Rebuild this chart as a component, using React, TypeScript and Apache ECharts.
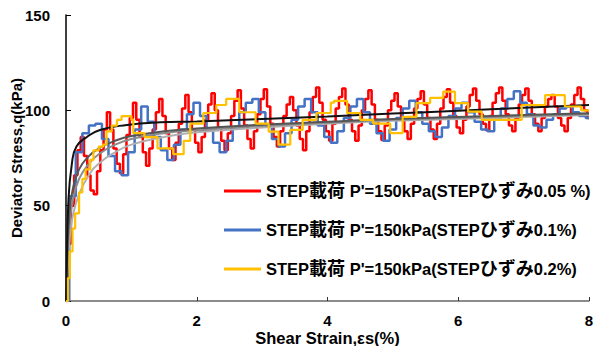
import React, { useEffect, useRef } from "react";
import * as echarts from "echarts";

// Stress sampled at every 0.05 % of shear strain (STEP 0.05 %)
const RED_STEP = 0.05;
const redStress = [
  0, 30, 50, 66, 79, 86, 76, 66, 58, 56,
  68, 79, 90, 99, 90, 80, 72, 67, 77, 87,
  96, 104, 95, 86, 78, 71, 80, 90, 99, 106,
  97, 88, 80, 74, 83, 93, 101, 108, 99, 90,
  83, 78, 86, 95, 103, 109, 100, 91, 84, 79,
  88, 97, 105, 110.5, 101, 92, 85, 80, 89, 98,
  106, 111, 102, 93, 86, 81, 89, 97, 103, 107,
  100, 92, 85, 79, 89, 99, 107, 112, 104, 95,
  89, 84, 93, 101, 107, 111.5, 103, 95, 89, 84,
  92, 100, 106, 110.5, 103, 95, 89, 84.5, 92, 100,
  105, 109, 102, 95, 89, 85, 93, 101, 106, 110,
  103, 96, 90, 85, 93, 101, 107, 111, 104, 97,
  91, 88, 95, 102, 108, 111.5, 105, 98, 93, 89.5,
  97, 104, 109, 112, 105, 98, 92, 89, 96, 103,
  108, 111.5, 105, 98, 93, 89, 96, 102, 106, 108,
  102, 96, 92, 89, 96, 103, 108, 112, 106, 100,
  96,
];

// Stress sampled at every 0.1 % of shear strain (STEP 0.1 %)
const BLUE_STEP = 0.1;
const blueStress = [
  0, 55, 78, 88, 92, 93, 85, 76, 68, 66,
  78, 90, 102, 94, 86, 79, 74, 82, 90, 98,
  104, 97, 90, 83, 78, 84, 91, 99, 104, 106,
  99, 92, 85, 81, 88, 95, 102, 106, 99, 92,
  86, 83, 89, 96, 102, 106, 99, 93, 88, 84,
  90, 96, 101, 105, 99, 93, 89, 86, 91, 97,
  101, 104, 99, 94, 90, 89, 95, 101, 106, 110,
  104, 98, 92, 91, 95, 98, 101, 102, 99, 97,
  96,
];

// STEP 0.2 % record: [strain %, stress kPa]
const yellowPoints: [number, number][] = [
  [0, 0], [0.03, 12], [0.06, 26], [0.1, 38], [0.14, 46], [0.2, 57], [0.25, 64],
  [0.3, 69], [0.37, 74], [0.42, 79], [0.5, 81], [0.57, 82], [0.62, 89], [0.7, 92],
  [0.78, 95], [0.85, 97], [1.0, 95], [1.03, 88], [1.2, 86], [1.4, 80], [1.64, 77],
  [1.8, 84], [1.9, 93], [2.1, 98.6], [2.3, 102.8], [2.45, 106], [2.65, 99], [2.9, 93],
  [3.1, 88.8], [3.25, 82], [3.43, 89.7], [3.62, 95], [3.83, 98.6], [4.05, 104],
  [4.1, 105], [4.3, 98.6], [4.5, 95], [4.7, 93], [4.96, 88], [5.15, 96.6],
  [5.36, 103.8], [5.57, 106.5], [5.77, 109.8], [5.95, 103.8], [6.15, 99.3],
  [6.36, 95], [6.56, 95], [6.97, 102.8], [7.33, 108], [7.63, 102], [7.88, 100], [8.0, 100],
];

// Fitted hyperbolic-type curves
const fitBlack: [number, number][] = [
  [0, 0], [0.01, 16], [0.035, 51], [0.09, 72], [0.16, 81], [0.32, 86], [0.52, 89.7],
  [0.93, 92.3], [1.44, 93.7], [2.0, 94.2], [3.0, 95.5], [4.0, 96.8], [5.0, 98.3],
  [6.0, 99.8], [7.0, 101.3], [8.0, 102.8],
];
const fitDark: [number, number][] = [
  [0, 0], [0.02, 25], [0.05, 45], [0.1, 58], [0.2, 69], [0.35, 76], [0.5, 80],
  [0.75, 84], [1.0, 86.5], [1.5, 89], [2, 90.5], [3, 92.5], [4, 94], [5, 95.5],
  [6, 96.5], [7, 97.5], [8, 98.5],
];
const fitMid: [number, number][] = [
  [0, 0], [0.02, 20], [0.05, 38], [0.1, 52], [0.2, 64], [0.35, 72], [0.5, 77],
  [0.75, 82], [1, 85], [1.5, 88], [2, 89.5], [3, 91.8], [4, 93.5], [5, 95],
  [6, 96], [7, 97], [8, 98],
];
const fitLight: [number, number][] = [
  [0, 0], [0.02, 15], [0.05, 30], [0.1, 44], [0.2, 56], [0.35, 66], [0.5, 72],
  [0.75, 78], [1, 82], [1.5, 86], [2, 88.5], [3, 91], [4, 93], [5, 94.5],
  [6, 95.5], [7, 96.5], [8, 97.5],
];

const NAME_RED = "STEP載荷 P'=150kPa(STEPひずみ0.05 %)";
const NAME_BLUE = "STEP載荷 P'=150kPa(STEPひずみ0.1%)";
const NAME_YELLOW = "STEP載荷 P'=150kPa(STEPひずみ0.2%)";

const FONT = "'Liberation Sans', Arial, 'Noto Sans CJK JP', sans-serif";

const toPairs = (vals: number[], step: number): [number, number][] =>
  vals.map((v, i) => [+(i * step).toFixed(3), v]);

// Split a legend label into latin / CJK runs so each can get its own size
const richLabel = (name: string) =>
  name
    .split(/([\u3000-\u9fff]+)/)
    .filter((s) => s.length > 0)
    .map((s) => (/[\u3000-\u9fff]/.test(s) ? `{j|${s}}` : `{a|${s}}`))
    .join("");

export default function App() {
  const ref = useRef<HTMLDivElement>(null);

  useEffect(() => {
    if (!ref.current) return;
    const chart = echarts.init(ref.current, undefined, { renderer: "svg" });

    const fit = (name: string, data: [number, number][], color: string, width = 2) => ({
      name,
      type: "line",
      data,
      smooth: true,
      symbol: "none",
      lineStyle: { color, width },
      itemStyle: { color },
      z: 3,
    });

    chart.setOption({
      animation: false,
      backgroundColor: "#fff",
      textStyle: { fontFamily: FONT },
      grid: { left: 66, right: 6, top: 15, bottom: 45, containLabel: false, outerBoundsMode: "none" },
      legend: {
        data: [NAME_RED, NAME_BLUE, NAME_YELLOW],
        orient: "vertical",
        left: 219,
        top: 177,
        itemGap: 21,
        itemWidth: 37,
        itemHeight: 3,
        icon: "rect",
        formatter: richLabel,
        textStyle: {
          fontFamily: FONT,
          fontWeight: "bold",
          color: "#000",
          rich: {
            a: { fontFamily: FONT, fontSize: 16.5, fontWeight: "bold", color: "#000", lineHeight: 18 },
            j: { fontFamily: FONT, fontSize: 18, fontWeight: "bold", color: "#000", lineHeight: 18 },
          },
        },
      },
      xAxis: {
        type: "value",
        min: 0,
        max: 8,
        interval: 2,
        name: "Shear Strain,εs(%)",
        nameLocation: "middle",
        nameGap: 37,
        nameMoveOverlap: false,
        nameTextStyle: {
          fontFamily: FONT,
          fontSize: 16.5,
          fontWeight: "bold",
          color: "#000",
          verticalAlign: "middle",
          lineHeight: 15,
        },
        axisLine: { lineStyle: { color: "#666", width: 1.5 } },
        axisTick: { inside: true, length: 4, lineStyle: { color: "#333" } },
        axisLabel: {
          fontFamily: FONT,
          fontSize: 15,
          fontWeight: "bold",
          color: "#000",
          margin: 12,
          lineHeight: 15,
        },
        splitLine: { show: false },
      },
      yAxis: {
        type: "value",
        min: 0,
        max: 150,
        interval: 50,
        name: "Deviator Stress,q(kPa)",
        nameLocation: "middle",
        nameGap: 42,
        nameMoveOverlap: false,
        nameTextStyle: { fontFamily: FONT, fontSize: 15, fontWeight: "bold", color: "#000" },
        axisLine: { show: true, lineStyle: { color: "#000", width: 1.5 } },
        axisTick: { show: true, inside: true, length: 5, lineStyle: { color: "#000" } },
        axisLabel: { fontFamily: FONT, fontSize: 15, fontWeight: "bold", color: "#000", margin: 16 },
        splitLine: { show: false },
      },
      series: [
        {
          name: NAME_RED,
          type: "line",
          data: toPairs(redStress, RED_STEP),
          step: "middle",
          symbol: "none",
          lineStyle: { color: "#FF0000", width: 2.5 },
          itemStyle: { color: "#FF0000" },
          z: 2,
        },
        {
          name: NAME_BLUE,
          type: "line",
          data: toPairs(blueStress, BLUE_STEP),
          step: "middle",
          symbol: "none",
          lineStyle: { color: "#4472C4", width: 2.5 },
          itemStyle: { color: "#4472C4" },
          z: 2,
        },
        fit("fit-light", fitLight, "#B0B0B0"),
        fit("fit-mid", fitMid, "#8C8C8C"),
        fit("fit-dark", fitDark, "#555555"),
        fit("fit-black", fitBlack, "#111111"),
        {
          name: NAME_YELLOW,
          type: "line",
          data: yellowPoints,
          step: "end",
          symbol: "none",
          lineStyle: { color: "#FFC000", width: 2.2 },
          itemStyle: { color: "#FFC000" },
          z: 4,
        },
      ],
    });

    return () => chart.dispose();
  }, []);

  return (
    <div
      ref={ref}
      style={{ position: "absolute", left: 0, top: 0, width: 595, height: 346 }}
    />
  );
}
